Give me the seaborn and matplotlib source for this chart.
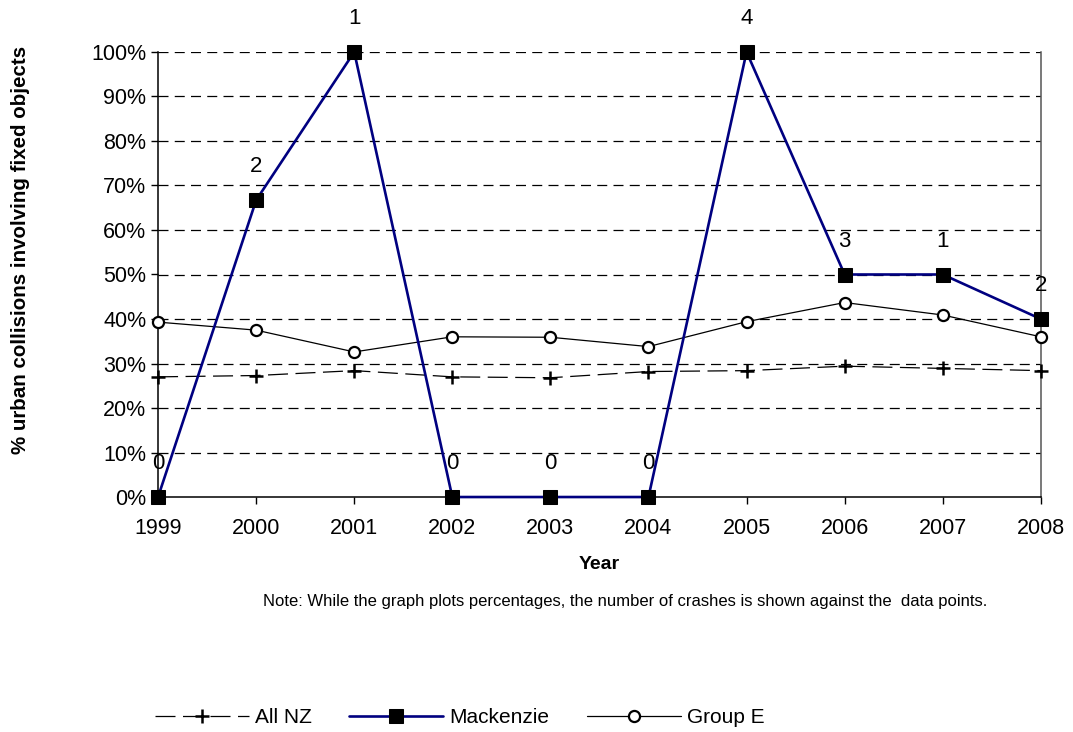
import numpy as np
import pandas as pd
import seaborn as sns
import matplotlib
matplotlib.use("Agg")
import matplotlib.pyplot as plt
from matplotlib.ticker import PercentFormatter, MultipleLocator

years = [1999, 2000, 2001, 2002, 2003, 2004, 2005, 2006, 2007, 2008]
all_nz = [0.270, 0.273, 0.284, 0.270, 0.268, 0.282, 0.284, 0.294, 0.289, 0.284]
mackenzie = [0.0, 0.667, 1.0, 0.0, 0.0, 0.0, 1.0, 0.5, 0.5, 0.4]
group_e = [0.393, 0.375, 0.326, 0.360, 0.359, 0.338, 0.394, 0.437, 0.409, 0.360]
crash_counts = [0, 2, 1, 0, 0, 0, 4, 3, 1, 2]

sns.set_theme(style="white")
plt.rcParams["font.family"] = ["Liberation Sans", "DejaVu Sans"]
plt.rcParams["text.color"] = "black"
plt.rcParams["axes.labelcolor"] = "black"
plt.rcParams["xtick.color"] = "black"
plt.rcParams["ytick.color"] = "black"

fig = plt.figure(figsize=(10.73, 7.32), dpi=100)
ax = fig.add_axes([0.1473, 0.321, 0.8227, 0.608])

sns.lineplot(x=years, y=all_nz, ax=ax, color="black", linewidth=0.9,
             linestyle=(0, (16, 6)), marker="+", markersize=10,
             markeredgewidth=1.8, markeredgecolor="black", label="All NZ",
             clip_on=False, zorder=3)
sns.lineplot(x=years, y=mackenzie, ax=ax, color="#000080", linewidth=1.9,
             marker="s", markersize=9.5, markerfacecolor="black",
             markeredgecolor="black", label="Mackenzie", clip_on=False,
             zorder=5)
sns.lineplot(x=years, y=group_e, ax=ax, color="black", linewidth=0.9,
             marker="o", markersize=8, markerfacecolor="white",
             markeredgecolor="black", markeredgewidth=1.6, label="Group E",
             clip_on=False, zorder=4)

for x, y, n in zip(years, mackenzie, crash_counts):
    ax.annotate(str(n), (x, y), xytext=(0, 24), textcoords="offset points",
                ha="center", va="center", fontsize=16)

ax.set_xlim(1999, 2008)
ax.set_ylim(0, 1)
ax.set_xticks(years)
ax.yaxis.set_major_locator(MultipleLocator(0.1))
ax.yaxis.set_major_formatter(PercentFormatter(1.0, decimals=0))
ax.tick_params(axis="both", labelsize=15.5, length=5, width=1, color="black",
               direction="out", bottom=True, left=True)
ax.tick_params(axis="x", pad=10)

for v in np.arange(0.1, 1.01, 0.1):
    ax.axhline(v, color="black", linewidth=0.9, linestyle=(0, (8, 5)), zorder=1)

ax.spines["top"].set_visible(False)
ax.spines["left"].set_color("black")
ax.spines["bottom"].set_color("black")
ax.spines["right"].set_color("#555555")
for s in ["left", "bottom", "right"]:
    ax.spines[s].set_linewidth(1.1)

ax.set_xlabel("Year", fontsize=14, fontweight="bold", labelpad=12)
ax.set_ylabel("% urban collisions involving fixed objects", fontsize=14.8,
              fontweight="bold")
ax.yaxis.set_label_coords(-0.145, 0.555)

fig.text(0.5825, 0.178,
         "Note: While the graph plots percentages, the number of crashes is shown against the  data points.",
         ha="center", va="center", fontsize=12)

handles, labels = ax.get_legend_handles_labels()
ax.get_legend().remove()
fig.legend(handles, labels, loc="center left", bbox_to_anchor=(0.127, 0.02),
           ncol=3, frameon=False, fontsize=15, handlelength=4.5,
           columnspacing=1.8, handletextpad=0.3)

fig.savefig("out.png", dpi=100)
